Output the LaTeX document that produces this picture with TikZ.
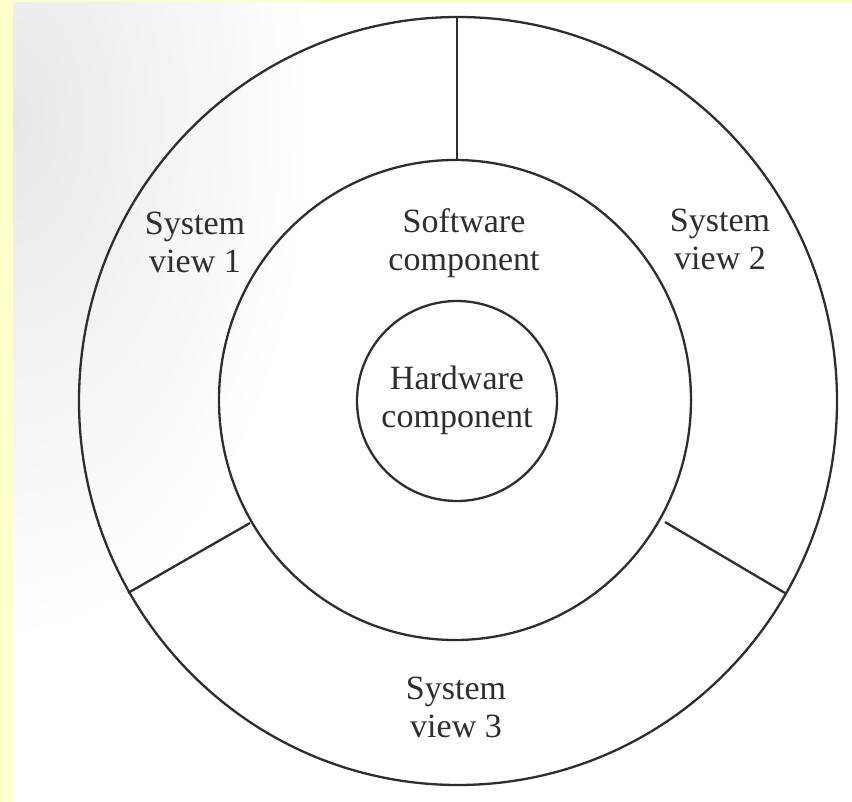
\documentclass[tikz,border=0pt]{standalone}
\usepackage{fontspec}
\setmainfont{Liberation Serif}
\definecolor{paper}{HTML}{FFFFCC}
\definecolor{ink}{HTML}{2E2E2E}
\tikzset{
  ring/.style={draw=ink, line width=2.3pt},
  divider/.style={draw=ink, line width=2.3pt},
  label/.style={font=\fontsize{34}{38}\selectfont, text=ink, align=center, anchor=base, inner sep=0pt}
}
\begin{document}
\begin{tikzpicture}[x=1pt,y=-1pt]
  % page and scanner margins
  \useasboundingbox (0,0) rectangle (852,802);
  \fill[paper] (0,0) rectangle (852,802);
  \fill[white] (13,3) rectangle (852,802);
  \begin{scope}
    \clip (13,3) rectangle (852,802);
    \shade[inner color=black!9, outer color=white] (13,120) ellipse [x radius=300, y radius=520];
  \end{scope}

  % the three rings
  \path[ring] (458,401) ellipse [x radius=379, y radius=384];
  \path[ring] (455,400) ellipse [x radius=236, y radius=240];
  \path[ring] (457,401) circle [radius=100];

  % end points of the dividers
  \coordinate (topOut) at (457,17);
  \coordinate (topIn) at (457,160);
  \coordinate (leftOut) at (128,593);
  \coordinate (leftIn) at (250,523);
  \coordinate (rightIn) at (665,522);
  \coordinate (rightOut) at (785,593);

  \draw[divider] (topOut) -- (topIn);
  \draw[divider] (leftOut) -- (leftIn);
  \draw[divider] (rightIn) -- (rightOut);

  % labels (anchored on the baseline of their second line)
  \node[label] (sv1) at (195,273) {System\\view 1};
  \node[label] (sv2) at (720,270) {System\\view 2};
  \node[label] (sw) at (464,271) {Software\\component};
  \node[label] (hw) at (457,428) {Hardware\\component};
  \node[label] (sv3) at (456,737) {System\\view 3};
\end{tikzpicture}
\end{document}
